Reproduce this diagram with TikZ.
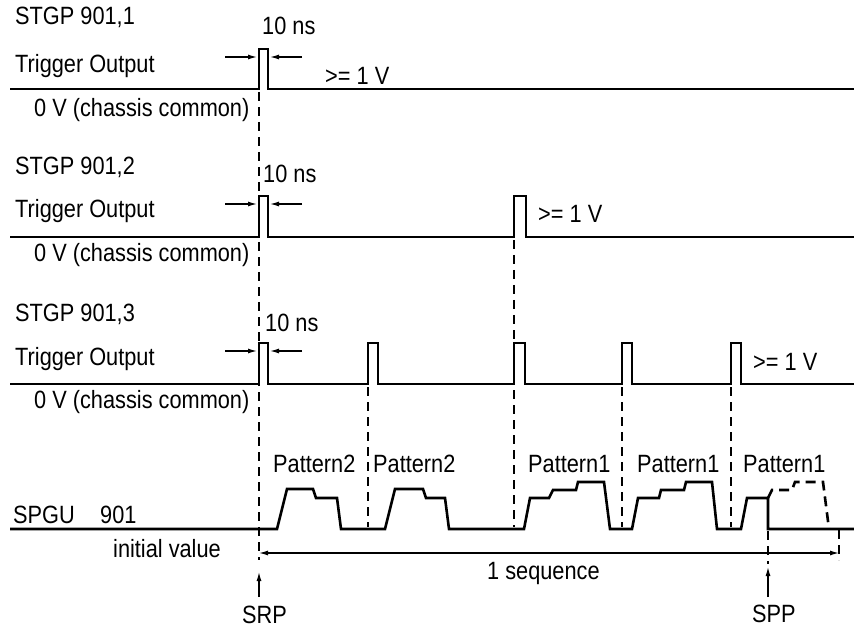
\documentclass[tikz,border=0pt]{standalone}
\usepackage{fontspec}
\setmainfont[FakeStretch=0.87]{Liberation Sans}
\usetikzlibrary{arrows.meta}
\begin{document}
\begin{tikzpicture}[x=1pt,y=-1pt,
  sig/.style={line width=2.6pt, line join=miter},
  sigdash/.style={line width=2.6pt, dash pattern=on 10pt off 6pt},
  guide/.style={line width=1.3pt, dash pattern=on 9pt off 6pt},
  dim/.style={line width=1.2pt, -{Latex[length=9pt,width=5pt]}},
  lbl/.style={font=\fontsize{25}{28}\selectfont, inner sep=0pt, anchor=base west}]
\useasboundingbox (0,0) rectangle (854,628);

% ---------- row 1 ----------
\node[lbl] (n1) at (15,25) {STGP 901,1};
\node[lbl] (tr1) at (15,73) {Trigger Output};
\node[lbl] (zv1) at (34,117) {0 V (chassis common)};
\node[lbl] (ns1) at (262,35) {10 ns};
\node[lbl] (v1) at (325,85) {>= 1 V};
\draw[sig] (10,89) -- (259,89) -- (259,49) -- (268,49) -- (268,89) -- (854,89);
\coordinate (a1l) at (225,57); \coordinate (a1lt) at (257,57);
\coordinate (a1r) at (302,57); \coordinate (a1rt) at (270,57);
\draw[dim] (a1l) -- (a1lt);
\draw[dim] (a1r) -- (a1rt);

% ---------- row 2 ----------
\node[lbl] (n2) at (15,175) {STGP 901,2};
\node[lbl] (tr2) at (15,218) {Trigger Output};
\node[lbl] (zv2) at (34,262) {0 V (chassis common)};
\node[lbl] (ns2) at (263,183) {10 ns};
\node[lbl] (v2) at (538,223) {>= 1 V};
\draw[sig] (10,237) -- (259,237) -- (259,196) -- (268,196) -- (268,237)
  -- (514,237) -- (514,196) -- (526,196) -- (526,237) -- (854,237);
\coordinate (a2l) at (225,204); \coordinate (a2lt) at (257,204);
\coordinate (a2r) at (302,204); \coordinate (a2rt) at (270,204);
\draw[dim] (a2l) -- (a2lt);
\draw[dim] (a2r) -- (a2rt);

% ---------- row 3 ----------
\node[lbl] (n3) at (15,322) {STGP 901,3};
\node[lbl] (tr3) at (15,365) {Trigger Output};
\node[lbl] (zv3) at (34,408) {0 V (chassis common)};
\node[lbl] (ns3) at (265,331) {10 ns};
\node[lbl] (v3) at (753,370) {>= 1 V};
\draw[sig] (10,384) -- (259,384) -- (259,343) -- (268,343) -- (268,384)
  -- (368,384) -- (368,343) -- (378,343) -- (378,384)
  -- (514,384) -- (514,343) -- (525,343) -- (525,384)
  -- (622,384) -- (622,343) -- (632,343) -- (632,384)
  -- (731,384) -- (731,343) -- (741,343) -- (741,384) -- (854,384);
\coordinate (a3l) at (225,351); \coordinate (a3lt) at (257,351);
\coordinate (a3r) at (302,351); \coordinate (a3rt) at (270,351);
\draw[dim] (a3l) -- (a3lt);
\draw[dim] (a3r) -- (a3rt);

% ---------- row 4 (SPGU) ----------
\node[lbl] (sp) at (13,523) {SPGU};
\node[lbl] (sn) at (100,523) {901};
\node[lbl] (iv) at (113,557) {initial value};
\node[lbl] (p2a) at (273,472) {Pattern2};
\node[lbl] (p2b) at (373,472) {Pattern2};
\node[lbl] (p1a) at (528,472) {Pattern1};
\node[lbl] (p1b) at (637,472) {Pattern1};
\node[lbl] (p1c) at (743,472) {Pattern1};
\draw[sig] (10,529) -- (277,529) -- (287,489) -- (313,489) -- (316,498) -- (337,498)
  -- (341,529) -- (385,529) -- (395,489) -- (423,489) -- (426,498) -- (445,498)
  -- (449,529) -- (524,529) -- (530,498) -- (549,498) -- (553,490) -- (576,490)
  -- (578,482) -- (604,482) -- (610,529) -- (632,529) -- (638,498) -- (659,498)
  -- (661,490) -- (684,490) -- (686,482) -- (712,482) -- (717,529) -- (741,529)
  -- (747,498) -- (768,498) -- (768,529) -- (854,529);
\draw[sigdash] (768,498) -- (772,490) -- (792,490) -- (795,482) -- (823,482) -- (829,529);

% guides
\draw[guide] (259,92) -- (259,560);
\draw[guide] (368,387) -- (368,527);
\draw[guide] (514,240) -- (514,527);
\draw[guide] (622,387) -- (622,527);
\draw[guide] (731,387) -- (731,527);
\draw[guide] (768,531) -- (768,564);
\draw[guide] (839,530) -- (839,560);

% sequence arrow
\coordinate (sq1) at (259,553); \coordinate (sq2) at (839,553);
\draw[line width=1.2pt, {Latex[length=9pt,width=5pt]}-{Latex[length=9pt,width=5pt]}] (sq1) -- (sq2);
\node[lbl] (seq) at (487,579) {1 sequence};

% SRP / SPP
\node[lbl, text depth=0pt] (srp) at (242,623) {SRP};
\node[lbl, text depth=0pt] (spp) at (752,622) {SPP};
\coordinate (srpt) at (259,597); \coordinate (srph) at (259,572);
\coordinate (sppt) at (768,597); \coordinate (spph) at (768,567);
\draw[dim] (srpt) -- (srph);
\draw[dim] (sppt) -- (spph);
\end{tikzpicture}
\end{document}
